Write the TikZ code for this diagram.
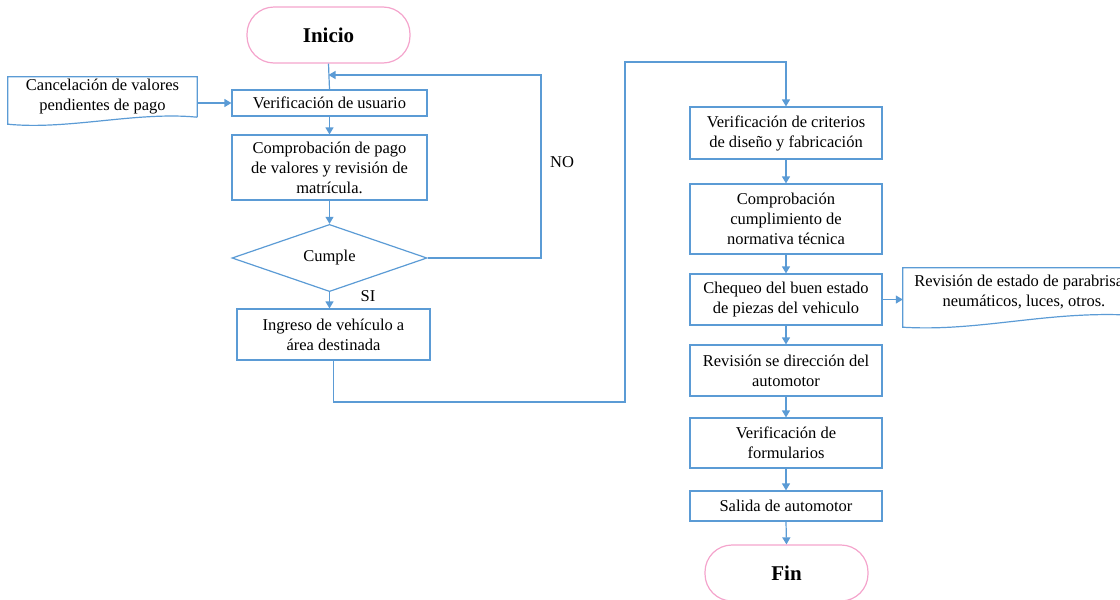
\documentclass[tikz,border=0pt]{standalone}
\usepackage{fontspec}
\setmainfont{Liberation Serif}
\usetikzlibrary{arrows.meta,shapes.geometric,calc}
\definecolor{lineblue}{RGB}{91,155,213}
\definecolor{termpink}{RGB}{244,164,204}
\tikzset{
  process/.style={draw=lineblue, line width=1.2pt, align=center, inner sep=2pt,
    font=\fontsize{16.5}{20}\selectfont},
  terminal/.style={draw=termpink, line width=1.2pt, rounded corners=27pt,
    minimum width=163pt, minimum height=56pt, font=\bfseries\fontsize{21}{24}\selectfont},
  decision/.style={diamond, draw=lineblue, line width=1.2pt, inner sep=0pt,
    minimum width=195pt, minimum height=64pt, font=\fontsize{16.5}{20}\selectfont},
  docbox/.style={align=center, inner sep=0pt, font=\fontsize{16.5}{20}\selectfont},
  docline/.style={draw=lineblue, line width=1.2pt},
  link/.style={draw=lineblue, line width=1.2pt, -{Triangle[length=7pt,width=8pt]}},
  answer/.style={font=\fontsize{16.5}{20}\selectfont}
}
\begin{document}
\begin{tikzpicture}[x=1pt, y=-1pt]
    \useasboundingbox (0,0) rectangle (1120,600);
    \clip (0,0) rectangle (1120,600);

    % Draw nodes
    \node[terminal] (inicio) at (328.5,35) {Inicio};
    \node[docbox, minimum width=189pt, minimum height=40pt] (cancel) at (102.5,97) {Cancelación de valores\\pendientes de pago};
    \node[process, minimum width=195pt, minimum height=26pt] (verif) at (329.5,103) {Verificación de usuario};
    \node[process, minimum width=195pt, minimum height=65pt] (pago) at (329.5,167.5) {Comprobación de pago\\de valores y revisión de\\matrícula.};
    \node[decision] (cumple) at (329.5,258) {Cumple};
    \node[process, minimum width=193pt, minimum height=51pt] (ingreso) at (333.5,334.5) {Ingreso de vehículo a\\área destinada};

    \node[process, minimum width=192pt, minimum height=52pt] (crit) at (786,133) {Verificación de criterios\\de diseño y fabricación};
    \node[process, minimum width=192pt, minimum height=70pt] (norma) at (786,219) {Comprobación\\cumplimiento de\\normativa técnica};
    \node[process, minimum width=192pt, minimum height=51pt] (chequeo) at (786,299.5) {Chequeo del buen estado\\de piezas del vehiculo};
    \node[docbox, minimum width=242pt, minimum height=48pt] (piezas) at (1024,292) {Revisión de estado de parabrisas,\\neumáticos, luces, otros.};
    \node[process, minimum width=192pt, minimum height=51pt] (direccion) at (786,370.5) {Revisión se dirección del\\automotor};
    \node[process, minimum width=192pt, minimum height=50pt] (formul) at (786,443) {Verificación de\\formularios};
    \node[process, minimum width=192pt, minimum height=30pt] (salida) at (786,506) {Salida de automotor};
    \node[terminal] (fin) at (786.5,573) {Fin};

    \node[answer] (si) at (368,296) {SI};
    \node[answer] (no) at (562,162) {NO};

    % Document shapes
    \draw[docline] (cancel.south east) -- (cancel.north east) -- (cancel.north west)
        -- ($(cancel.south west)+(0,7)$) .. controls ($(cancel.south west)+(60,13)$) and ($(cancel.south east)+(-60,-6)$) .. (cancel.south east);
    \draw[docline] (piezas.south east) -- (piezas.north east) -- (piezas.north west)
        -- ($(piezas.south west)+(0,11)$) .. controls ($(piezas.south west)+(80,16)$) and ($(piezas.south east)+(-90,-8)$) .. (piezas.south east);

    % Draw directed edges
    \coordinate (loopturn) at (541,75);
    \coordinate (lowturn) at (625,402);
    \coordinate (topturn) at (625,62);
    \draw[docline] (inicio.south) -- (verif.north);
    \draw[link] (cancel.east |- verif.west) -- (verif.west);
    \draw[link] (verif.south) -- (pago.north);
    \draw[link] (pago.south) -- (cumple.north);
    \draw[link] (cumple.south) -- (ingreso.north -| cumple.south);
    \draw[link] (cumple.east) -| (loopturn) -- (inicio.south |- loopturn);
    \draw[link] (ingreso.south) |- (lowturn) -- (topturn) -| (crit.north);
    \draw[link] (crit.south) -- (norma.north);
    \draw[link] (norma.south) -- (chequeo.north);
    \draw[link] (chequeo.east) -- (piezas.west |- chequeo.east);
    \draw[link] (chequeo.south) -- (direccion.north);
    \draw[link] (direccion.south) -- (formul.north);
    \draw[link] (formul.south) -- (salida.north);
    \draw[link] (salida.south) -- (fin.north);
\end{tikzpicture}
\end{document}
